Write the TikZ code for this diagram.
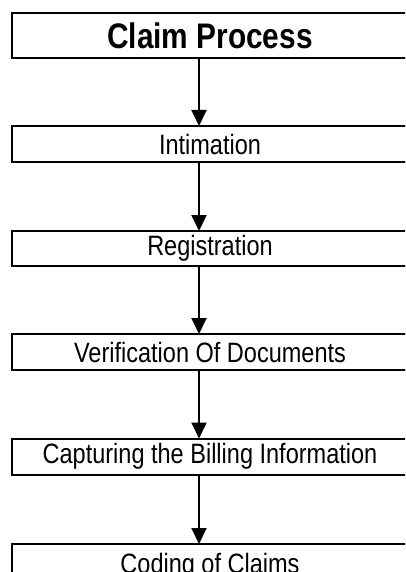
\documentclass[tikz,border=0pt]{standalone}
\usepackage{fontspec}
\setmainfont[FakeStretch=0.84]{Liberation Sans}
\usetikzlibrary{arrows.meta}

\tikzset{
  stage/.style={draw, line width=2pt, rectangle, minimum width=396pt,
    inner sep=0pt, outer sep=0pt, font=\fontsize{28}{30}\selectfont},
  headbox/.style={stage, font=\fontsize{35.5}{38}\selectfont\bfseries},
  flow/.style={line width=1.9pt, -{Triangle[width=15pt,length=16pt]}}
}

\begin{document}
\begin{tikzpicture}[x=1pt, y=-1pt]
  \useasboundingbox (0,0) rectangle (405,572);
  \clip (0,0) rectangle (405,572);
  \fill[white] (0,0) rectangle (405,572);

  % process stages, top to bottom
  \node[headbox, minimum height=45pt] (title) at (210,35.5) {Claim Process};
  \node[stage, minimum height=36pt] (intim) at (210,144) {Intimation};
  \node[stage, minimum height=35pt] (reg)   at (210,248.5) {Registration};
  \node[stage, minimum height=36pt] (verif) at (210,352) {Verification Of Documents};
  \node[stage, minimum height=36pt] (capt)  at (210,456.5) {Capturing the Billing Information};
  \node[stage, minimum height=45pt] (code)  at (210,566.5) {Coding of Claims};

  % vertical line on which all arrows run
  \coordinate (ax) at (199,0);

  \draw[flow] (title.south -| ax) -- (intim.north -| ax);
  \draw[flow] (intim.south -| ax) -- (reg.north -| ax);
  \draw[flow] (reg.south -| ax)   -- (verif.north -| ax);
  \draw[flow] (verif.south -| ax) -- (capt.north -| ax);
  \draw[flow] (capt.south -| ax)  -- (code.north -| ax);
\end{tikzpicture}
\end{document}
